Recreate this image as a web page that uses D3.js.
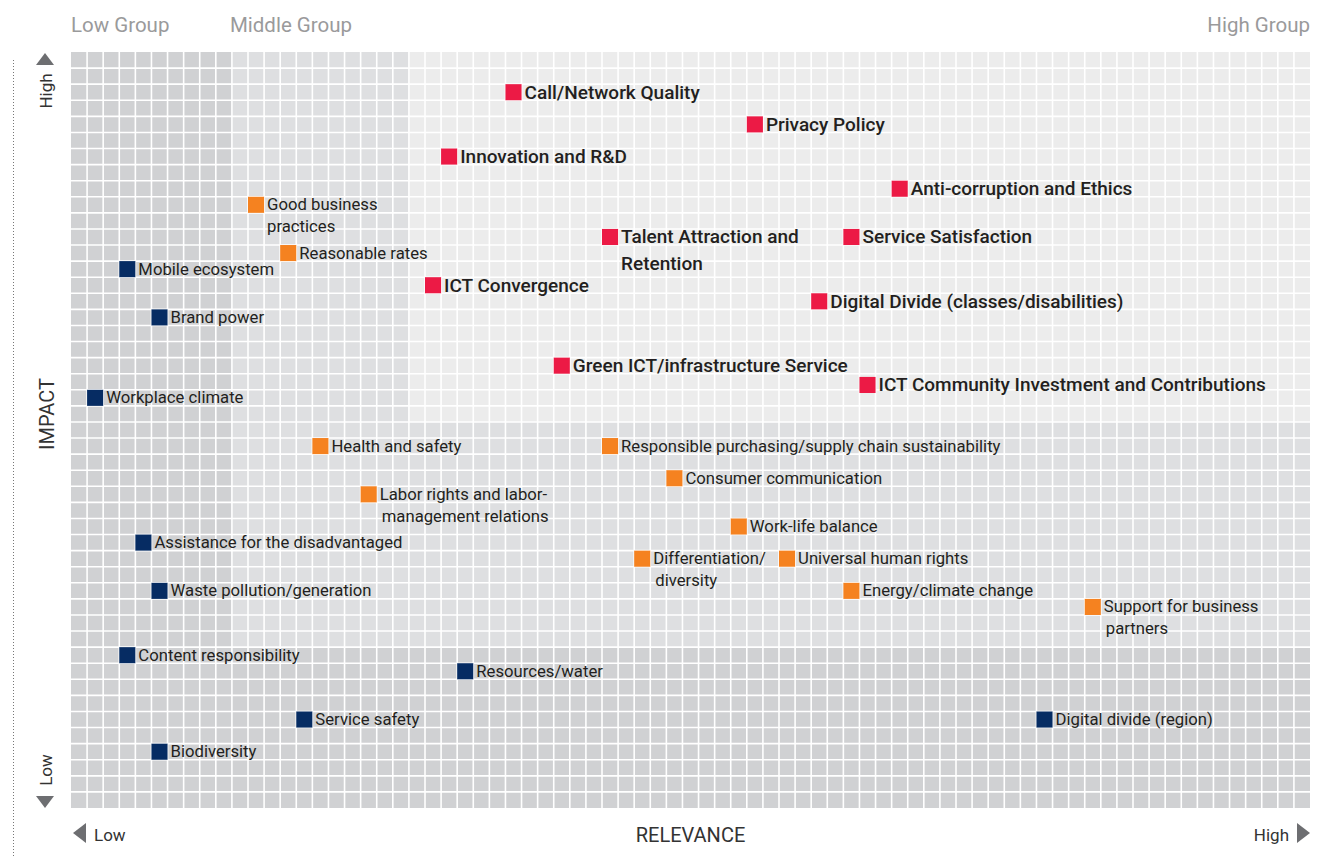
<!DOCTYPE html>
<html>
<head>
<meta charset="utf-8">
<script src="https://cdnjs.cloudflare.com/ajax/libs/d3/7.8.5/d3.min.js"></script>
<style>
  body { margin: 0; background: #fff; }
  text { font-family: Roboto, "Noto Sans", sans-serif; }
</style>
</head>
<body>
<div id="chart"></div>
<script>
// materiality matrix data (grid cell units: relevance 0-77 from left, impact 0-47 from bottom)
var labels = [
  "Call/Network Quality", "Privacy Policy", "Innovation and R&D", "Anti-corruption and Ethics",
  "Talent Attraction and\nRetention", "Service Satisfaction", "ICT Convergence",
  "Digital Divide (classes/disabilities)", "Green ICT/infrastructure Service",
  "ICT Community Investment and Contributions",
  "Good business\npractices", "Reasonable rates", "Health and safety",
  "Responsible purchasing/supply chain sustainability", "Consumer communication",
  "Labor rights and labor-\n management relations", "Work-life balance", "Differentiation/\n diversity",
  "Universal human rights", "Energy/climate change", "Support for business\n partners",
  "Mobile ecosystem", "Brand power", "Workplace climate", "Assistance for the disadvantaged",
  "Waste pollution/generation", "Content responsibility", "Resources/water", "Service safety",
  "Digital divide (region)", "Biodiversity"
];
var relevance = [27, 42, 23, 51, 33, 48, 22, 46, 30, 49,
  11, 13, 15, 33, 37, 18, 41, 35, 44, 48, 63,
  3, 5, 1, 4, 5, 3, 24, 14, 60, 5];
var impact = [44, 42, 40, 38, 35, 35, 32, 31, 27, 25.8,
  37, 34, 22, 22, 20, 19, 17, 15, 15, 13, 12,
  33, 30, 25, 16, 13, 9, 8, 5, 5, 3];
var tier = ["high", "high", "high", "high", "high", "high", "high", "high", "high", "high",
  "mid", "mid", "mid", "mid", "mid", "mid", "mid", "mid", "mid", "mid", "mid",
  "low", "low", "low", "low", "low", "low", "low", "low", "low", "low"];

var groupNames = ["Low Group", "Middle Group", "High Group"];
var groupStart = [0, 10, 77];   // relevance where each group label sits
var axisNames = { x: "RELEVANCE", y: "IMPACT", low: "Low", high: "High" };

var tierColor = { high: "#ec1a45", mid: "#f58220", low: "#062c63" };

var svgWidth = 1321;
var svgHeight = 858;
var cols = 77, rows = 47;

var svg = d3.select("#chart")
  .append("svg")
  .attr("width", svgWidth)
  .attr("height", svgHeight);

var x = d3.scaleLinear().domain([0, cols]).range([71, 1310]);
var y = d3.scaleLinear().domain([0, rows]).range([808, 52]);
var cw = x(1) - x(0);
var ch = y(0) - y(1);

// background bands
svg.append("rect")
  .attr("x", x(0)).attr("y", y(rows))
  .attr("width", x(cols) - x(0)).attr("height", y(0) - y(rows))
  .attr("fill", "#d0d1d3");
svg.append("rect")
  .attr("x", x(10)).attr("y", y(rows))
  .attr("width", x(cols) - x(10)).attr("height", y(10) - y(rows))
  .attr("fill", "#dedfe1");
svg.append("rect")
  .attr("x", x(21)).attr("y", y(rows))
  .attr("width", x(cols) - x(21)).attr("height", y(24) - y(rows))
  .attr("fill", "#ececec");

// grid
var grid = svg.append("g").attr("stroke", "#fff").attr("stroke-width", 1.6);
grid.selectAll("line.v")
  .data(d3.range(1, cols))
  .enter().append("line")
  .attr("x1", d => x(d)).attr("x2", d => x(d))
  .attr("y1", y(rows)).attr("y2", y(0));
grid.selectAll("line.h")
  .data(d3.range(1, rows))
  .enter().append("line")
  .attr("y1", d => y(d)).attr("y2", d => y(d))
  .attr("x1", x(0)).attr("x2", x(cols));

// points
var pts = labels.map(function (l, i) {
  return { label: l, rel: relevance[i], imp: impact[i], tier: tier[i] };
});

var node = svg.selectAll("g.pt")
  .data(pts)
  .enter().append("g");

node.append("rect")
  .attr("x", d => x(d.rel))
  .attr("y", d => y(d.imp + 1))
  .attr("width", cw)
  .attr("height", ch)
  .attr("fill", d => tierColor[d.tier]);

node.append("text")
  .attr("x", d => x(d.rel + 1) + 3)
  .attr("y", d => y(d.imp + 0.5) + (d.tier == "high" ? 6.5 : 5.5))
  .attr("font-size", d => d.tier == "high" ? "19px" : "16.7px")
  .attr("font-weight", d => d.tier == "high" ? 500 : 400)
  .attr("fill", "#231f20")
  .each(function (d) {
    var lines = d.label.split("\n");
    var t = d3.select(this);
    lines.forEach(function (ln, k) {
      var indent = ln.charAt(0) == " " ? 2 : 0;
      t.append("tspan")
        .attr("x", x(d.rel + 1) + 3 + indent)
        .attr("dy", k == 0 ? 0 : (d.tier == "high" ? 27 : 22))
        .text(ln.trim());
    });
  });

// group labels
svg.selectAll("text.grp")
  .data(groupNames)
  .enter().append("text")
  .attr("x", (d, i) => x(groupStart[i]) - (i == 1 ? 2 : 0))
  .attr("y", 32)
  .attr("text-anchor", (d, i) => i == 2 ? "end" : "start")
  .attr("font-size", "20.5px")
  .attr("fill", "#9a9a9b")
  .text(d => d);

// dotted side line
svg.append("line")
  .attr("x1", 13.5).attr("x2", 13.5)
  .attr("y1", 60).attr("y2", 858)
  .attr("stroke", "#777")
  .attr("stroke-width", 1)
  .attr("stroke-dasharray", "1,2");

// y axis labels
var axisColor = "#333";
var triColor = "#6d6e71";
svg.append("text")
  .attr("transform", "translate(54,414) rotate(-90)")
  .attr("text-anchor", "middle")
  .attr("font-size", "20px")
  .attr("fill", axisColor)
  .text(axisNames.y);
svg.append("text")
  .attr("transform", "translate(52,91) rotate(-90)")
  .attr("text-anchor", "middle")
  .attr("font-size", "17px")
  .attr("fill", axisColor)
  .text(axisNames.high);
svg.append("text")
  .attr("transform", "translate(52,770) rotate(-90)")
  .attr("text-anchor", "middle")
  .attr("font-size", "17px")
  .attr("fill", axisColor)
  .text(axisNames.low);
svg.append("path")
  .attr("d", "M36,65 L45,53 L54,65 Z")
  .attr("fill", triColor);
svg.append("path")
  .attr("d", "M36,796 L45,808 L54,796 Z")
  .attr("fill", triColor);

// x axis labels
svg.append("text")
  .attr("x", (x(0) + x(cols)) / 2)
  .attr("y", 842)
  .attr("text-anchor", "middle")
  .attr("font-size", "20px")
  .attr("fill", axisColor)
  .text(axisNames.x);
svg.append("text")
  .attr("x", 94)
  .attr("y", 841)
  .attr("font-size", "17px")
  .attr("fill", axisColor)
  .text(axisNames.low);
svg.append("text")
  .attr("x", 1289)
  .attr("y", 841)
  .attr("text-anchor", "end")
  .attr("font-size", "17px")
  .attr("fill", axisColor)
  .text(axisNames.high);
svg.append("path")
  .attr("d", "M86,823 L73,833 L86,843 Z")
  .attr("fill", triColor);
svg.append("path")
  .attr("d", "M1297,823 L1310,833 L1297,843 Z")
  .attr("fill", triColor);
</script>
</body>
</html>
